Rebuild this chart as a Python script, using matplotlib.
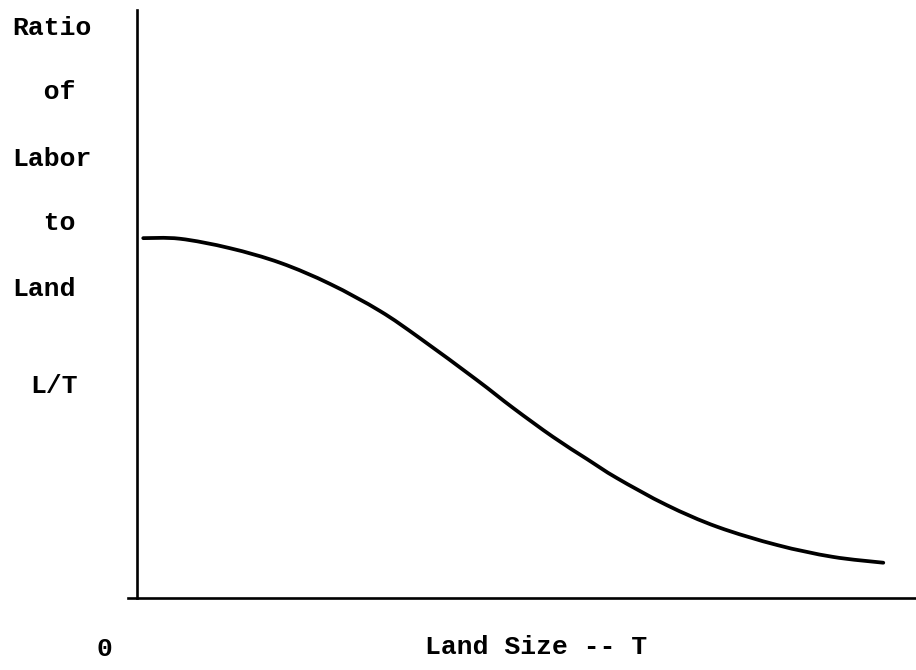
import matplotlib
matplotlib.use("Agg")
import matplotlib.pyplot as plt
from matplotlib.path import Path
from matplotlib.patches import PathPatch

# Curve data (arbitrary units: land size vs labor/land ratio)
land_size = [0.8, 5.5, 11.9, 18.4, 24.8, 31.2, 36.3, 43.6, 48.3, 53.4,
             57.8, 61.6, 68.0, 74.5, 82.2, 89.3, 95.8]
labor_land_ratio = [61.2, 61.1, 59.5, 57.0, 53.4, 48.8, 44.2, 37.1, 32.3, 27.4,
                    23.6, 20.4, 15.8, 12.1, 9.0, 7.0, 6.0]

ylabel_lines = ["Ratio", "  of", "Labor", "  to", "Land"]
ylabel_sym = "L/T"
origin_label = "0"
xlabel = "Land Size -- T"

W, H = 916, 670
fig = plt.figure(figsize=(W / 100, H / 100), dpi=100)
fig.patch.set_facecolor("white")

ax = fig.add_axes([128 / W, (H - 598) / H, 788 / W, 588 / H])
ax.set_xlim(-1.155, 100)
ax.set_ylim(0, 100)
ax.axis("off")

ax.axvline(0, color="black", lw=1.9, clip_on=False)
ax.axhline(0, color="black", lw=1.9, clip_on=False)

# smooth hand-drawn style curve through the points (Catmull-Rom -> Bezier)
pts = list(zip(land_size, labor_land_ratio))
verts = [pts[0]]
codes = [Path.MOVETO]
n = len(pts)
for i in range(n - 1):
    p0 = pts[i - 1] if i > 0 else pts[i]
    p1 = pts[i]
    p2 = pts[i + 1]
    p3 = pts[i + 2] if i + 2 < n else pts[i + 1]
    c1 = (p1[0] + (p2[0] - p0[0]) / 6, p1[1] + (p2[1] - p0[1]) / 6)
    c2 = (p2[0] - (p3[0] - p1[0]) / 6, p2[1] - (p3[1] - p1[1]) / 6)
    verts += [c1, c2, p2]
    codes += [Path.CURVE4] * 3
patch = PathPatch(Path(verts, codes), facecolor="none", edgecolor="black",
                  lw=2.7, capstyle="round", joinstyle="round")
ax.add_patch(patch)

font = dict(family="Liberation Mono", weight="bold", size=19)
ys = [28, 92, 159, 223, 289]
for txt, y in zip(ylabel_lines, ys):
    fig.text(12 / W, 1 - y / H, txt, ha="left", va="center", **font)
fig.text(30 / W, 1 - 386 / H, ylabel_sym, ha="left", va="center", **font)
fig.text(104 / W, 1 - 649 / H, origin_label, ha="center", va="center", **font)
fig.text(425 / W, 1 - 647 / H, xlabel, ha="left", va="center", **font)

fig.savefig("out.png", dpi=100)
